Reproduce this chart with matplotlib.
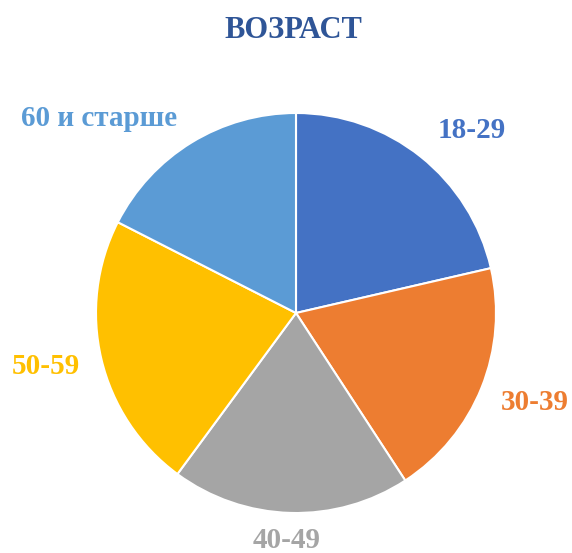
import matplotlib.pyplot as plt

labels = ["18-29", "30-39", "40-49", "50-59", "60 и старше"]
shares = [21.4, 19.4, 19.3, 22.4, 17.5]
colors = ["#4472C4", "#ED7D31", "#A5A5A5", "#FFC000", "#5B9BD5"]
TITLE = "ВОЗРАСТ"

W, H = 572, 553
fig = plt.figure(figsize=(W / 100, H / 100), dpi=100)
ax = fig.add_axes([0, 0, 1, 1])

cx, cy, r = 296, H - 313, 200

wedges, texts = ax.pie(
    shares, labels=labels, colors=colors, startangle=90, counterclock=False,
    center=(cx, cy), radius=r, labeldistance=1.27, frame=True,
    wedgeprops=dict(edgecolor="white", linewidth=1.5),
    textprops=dict(fontsize=21, fontweight="bold", family="Liberation Serif"),
)
ax.set_xlim(0, W)
ax.set_ylim(0, H)
ax.set_aspect("equal")
ax.axis("off")

for t, c in zip(texts, colors):
    t.set_color(c)
    t.set_ha("center")
    t.set_va("center")

# nudge labels to where the reference has them
texts[0].set_position((472, H - 131))
texts[1].set_position((535, H - 402))
texts[2].set_position((287, H - 541))
texts[3].set_position((46, H - 367))
texts[4].set_position((99, H - 118))

ax.text(293, H - 30, TITLE, ha="center", va="center", fontsize=22,
        fontweight="bold", family="Liberation Serif", color="#2F5597")

fig.savefig("out.png", dpi=100)
